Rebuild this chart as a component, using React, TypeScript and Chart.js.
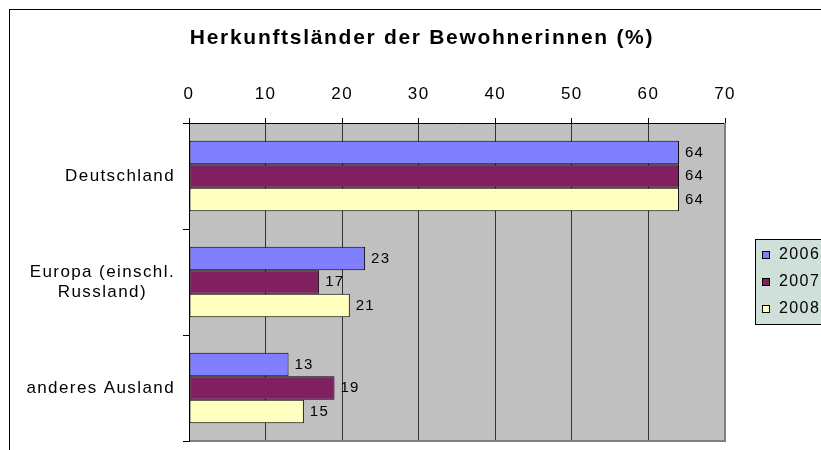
import React, { useEffect, useRef } from 'react';
import { Chart, registerables } from 'chart.js';

Chart.register(...registerables);

// ---- data ----
const categories: (string | string[])[] = ['Deutschland', ['Europa (einschl.', 'Russland)'], 'anderes Ausland'];
const seriesLabels = ['2006', '2007', '2008'];
const values2006 = [64, 23, 13];
const values2007 = [64, 17, 19];
const values2008 = [64, 21, 15];
const xTickMin = 0;
const xTickMax = 70;
const xTickStep = 10;
const titleText = 'Herkunftsländer der Bewohnerinnen (%)';

// ---- styles ----
const FONT = '"Liberation Sans", Arial, Helvetica, sans-serif';
const seriesColors = ['#8080FF', '#802060', '#FFFFC0'];
const CANVAS_W = 840;
const CANVAS_H = 470;

const framePlugin = {
  id: 'frame',
  beforeDraw(chart: any) {
    const { ctx, chartArea: a } = chart;
    ctx.save();
    ctx.fillStyle = '#ffffff';
    ctx.fillRect(0, 0, chart.width, chart.height);
    ctx.fillStyle = '#C0C0C0';
    ctx.fillRect(a.left, a.top, a.right - a.left, a.bottom - a.top);
    ctx.strokeStyle = '#000';
    ctx.lineWidth = 1;
    ctx.strokeRect(9.5, 9.5, chart.width + 20, chart.height + 20);
    ctx.restore();
    ctx.letterSpacing = '1.4px';
  },
  afterDraw(chart: any) {
    const { ctx, chartArea: a } = chart;
    ctx.save();
    // plot area border (right + bottom)
    ctx.strokeStyle = '#808080';
    ctx.lineWidth = 2;
    ctx.beginPath();
    ctx.moveTo(a.right, a.top);
    ctx.lineTo(a.right, a.bottom);
    ctx.lineTo(a.left + 1, a.bottom);
    ctx.stroke();

    // title
    ctx.font = `bold 21px ${FONT}`;
    ctx.letterSpacing = '1.7px';
    ctx.fillStyle = '#000';
    ctx.textAlign = 'center';
    ctx.textBaseline = 'middle';
    ctx.fillText(titleText, 422, 38.5);

    // category labels (right-aligned blocks, lines centred in block)
    const yScale = chart.scales.y;
    ctx.font = `17px ${FONT}`;
    ctx.letterSpacing = '1.4px';
    const rightEdge = yScale.right - 6 - 8;
    (chart.data.labels as any[]).forEach((lab, i) => {
      const lines: string[] = Array.isArray(lab) ? lab : [lab];
      const w = Math.max(...lines.map((l) => ctx.measureText(l).width));
      const cx = rightEdge - w / 2;
      const cy = yScale.getPixelForValue(i);
      const lh = 20;
      lines.forEach((l, j) => {
        ctx.fillText(l, cx, cy + (j - (lines.length - 1) / 2) * lh);
      });
    });

    // legend
    const legLeft = a.right + 30;
    const legH = 86;
    const legTop = Math.round((a.top + a.bottom) / 2 - legH / 2);
    ctx.fillStyle = '#CEE0D8';
    ctx.fillRect(legLeft, legTop, 200, legH);
    ctx.strokeStyle = '#000';
    ctx.lineWidth = 1;
    ctx.strokeRect(legLeft + 0.5, legTop + 0.5, 200, legH - 1);
    ctx.font = `16px ${FONT}`;
    ctx.textAlign = 'left';
    chart.data.datasets.forEach((ds: any, i: number) => {
      const cy = legTop + 16 + i * 27;
      ctx.fillStyle = ds.backgroundColor;
      ctx.fillRect(legLeft + 7.5, Math.round(cy) - 3.5, 7, 7);
      ctx.strokeRect(legLeft + 7.5, Math.round(cy) - 3.5, 7, 7);
      ctx.fillStyle = '#000';
      ctx.fillText(ds.label, legLeft + 24, cy);
    });
    ctx.restore();
  },
  afterDatasetsDraw(chart: any) {
    const { ctx } = chart;
    ctx.save();
    ctx.font = `15px ${FONT}`;
    ctx.letterSpacing = '1.2px';
    ctx.fillStyle = '#000';
    ctx.textAlign = 'left';
    ctx.textBaseline = 'middle';
    chart.data.datasets.forEach((ds: any, di: number) => {
      const meta = chart.getDatasetMeta(di);
      meta.data.forEach((bar: any, i: number) => {
        ctx.fillText(String(ds.data[i]), bar.x + 6, bar.y);
      });
    });
    ctx.restore();
  },
};

export default function App() {
  const ref = useRef<HTMLCanvasElement | null>(null);

  useEffect(() => {
    if (!ref.current) return;
    const seriesValues = [values2006, values2007, values2008];
    const chart = new Chart(ref.current, {
      type: 'bar',
      data: {
        labels: categories as any,
        datasets: seriesLabels.map((label, i) => ({
          label,
          data: seriesValues[i],
          backgroundColor: seriesColors[i],
          borderColor: '#000',
          borderWidth: 1,
          borderSkipped: false,
          barPercentage: 1,
          categoryPercentage: 0.665,
        })),
      },
      options: {
        indexAxis: 'y',
        responsive: false,
        animation: false,
        devicePixelRatio: 1,
        layout: { padding: { left: 10, top: 60, right: CANVAS_W - 725, bottom: CANVAS_H - 441 } },
        plugins: {
          legend: { display: false },
          title: { display: false },
          tooltip: { enabled: false },
        },
        scales: {
          x: {
            position: 'top',
            min: xTickMin,
            max: xTickMax,
            ticks: {
              stepSize: xTickStep,
              color: '#000',
              font: { size: 17, family: FONT },
              padding: 13,
              maxRotation: 0,
            },
            grid: { color: '#333333', tickColor: '#000', tickLength: 5, lineWidth: 1 },
            border: { color: '#000', width: 1 },
            afterFit: (s: any) => {
              s.height = 63;
            },
          },
          y: {
            offset: true,
            ticks: { display: false },
            grid: { offset: true, drawOnChartArea: false, tickLength: 6, tickColor: '#000', color: '#000' },
            border: { color: '#000', width: 1 },
            afterFit: (s: any) => {
              s.width = 179;
            },
          },
        },
      } as any,
      plugins: [framePlugin],
    });
    return () => chart.destroy();
  }, []);

  return (
    <div
      style={{
        position: 'fixed',
        left: 0,
        top: 0,
        width: 821,
        height: 450,
        overflow: 'hidden',
        background: '#fff',
      }}
    >
      <canvas
        ref={ref}
        width={CANVAS_W}
        height={CANVAS_H}
        style={{ display: 'block', width: CANVAS_W, height: CANVAS_H }}
      />
    </div>
  );
}
